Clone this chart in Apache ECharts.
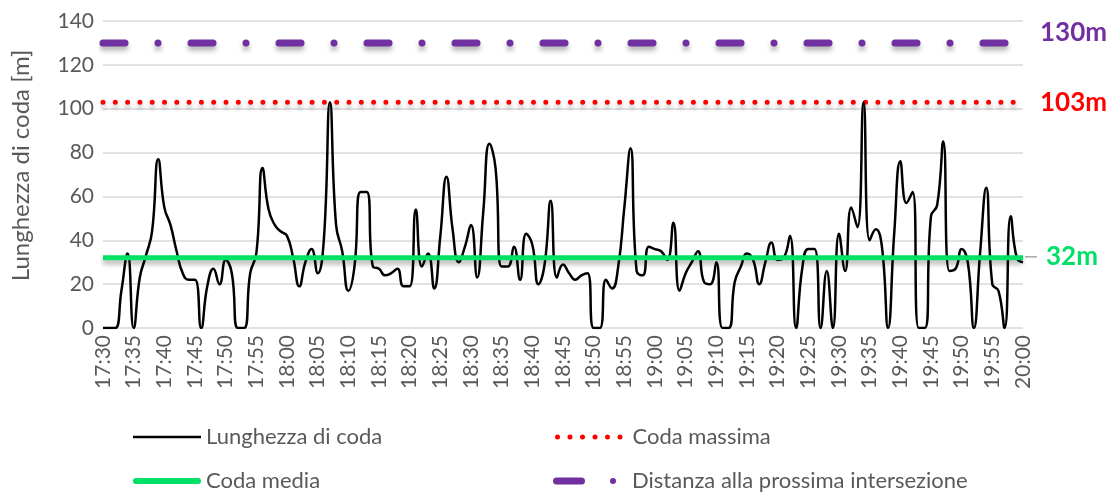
<!DOCTYPE html>
<html><head><meta charset="utf-8">
<script src="https://cdn.jsdelivr.net/npm/echarts@6/dist/echarts.min.js"></script>
<style>html,body{margin:0;padding:0;background:#fff}#c{width:1117px;height:496px}</style>
</head><body><div id="c"></div>
<script>
// categories: one per minute, 17:30 .. 20:00
const categories = [];
for (let m = 0; m <= 150; m++) {
  const t = 17 * 60 + 30 + m;
  categories.push(Math.floor(t / 60) + ':' + String(t % 60).padStart(2, '0'));
}
// Lunghezza di coda [m], one value per minute
const lunghezzaDiCoda = [
  0, 0, 0, 17, 34, 0, 23, 33, 44, 77,
  55, 47, 35, 25, 22, 22, 0, 19, 27, 20,
  31, 25, 0, 0, 25, 34, 73, 54, 47, 44,
  42, 32, 19, 30, 36, 25, 40, 103, 47, 35,
  17, 28, 62, 62, 28, 27, 24, 25, 27, 19,
  19, 54, 28, 34, 18, 42, 69, 45, 30, 37,
  47, 23, 53, 84, 73, 28, 28, 37, 22, 43,
  38, 20, 29, 58, 23, 29, 25, 22, 24, 25,
  0, 0, 22, 18, 28, 55, 82, 26, 24, 37,
  36, 35, 31, 48, 17, 25, 30, 35, 21, 20,
  30, 0, 0, 21, 28, 34, 31, 20, 30, 39,
  31, 32, 42, 0, 27, 36, 36, 0, 26, 0,
  43, 26, 55, 46, 103, 40, 45, 37, 0, 43,
  76, 57, 62, 0, 0, 51, 56, 85, 26, 27,
  36, 30, 0, 34, 64, 20, 17, 0, 51, 32,
  30
];
const codaMedia = 32;
const codaMassima = 103;
const distanzaIntersezione = 130;
const yMin = 0, yMax = 140, yInterval = 20;

const FONT = 'Lato';
const GREY = '#595959';
const first = categories[0], last = categories[categories.length - 1];

const chart = echarts.init(document.getElementById('c'), null, {renderer: 'canvas'});
const legendText = {color: GREY, fontSize: 22, fontFamily: FONT, lineHeight: 26};
chart.setOption({
  animation: false,
  backgroundColor: '#fff',
  grid: {left: 103, right: 94, top: 21, bottom: 168, containLabel: false},
  legend: [
    {data: [{name: 'Lunghezza di coda', icon: 'rect'}], left: 133, top: 424, padding: 0,
     itemWidth: 68, itemHeight: 2.5, textStyle: legendText, selectedMode: false},
    {data: [{name: 'Coda media', icon: 'path://M3,0 H65 A3,3 0 0 1 65,6 H3 A3,3 0 0 1 3,0 Z'}], left: 133, top: 468, padding: 0,
     itemWidth: 68, itemHeight: 6, textStyle: legendText, selectedMode: false},
    {data: [{name: 'Coda massima', icon: 'path://M0,2.5 a2.5,2.5 0 1,0 5,0 a2.5,2.5 0 1,0 -5,0 Z M12.5,2.5 a2.5,2.5 0 1,0 5,0 a2.5,2.5 0 1,0 -5,0 Z M25,2.5 a2.5,2.5 0 1,0 5,0 a2.5,2.5 0 1,0 -5,0 Z M37.5,2.5 a2.5,2.5 0 1,0 5,0 a2.5,2.5 0 1,0 -5,0 Z M50,2.5 a2.5,2.5 0 1,0 5,0 a2.5,2.5 0 1,0 -5,0 Z M62.5,2.5 a2.5,2.5 0 1,0 5,0 a2.5,2.5 0 1,0 -5,0 Z'}],
     left: 555, top: 424, padding: 0, itemWidth: 67.5, itemHeight: 5,
     textStyle: Object.assign({}, legendText, {padding: [0, 0, 0, 5]}), selectedMode: false},
    {data: [{name: 'Distanza alla prossima intersezione', icon: 'path://M3.5,0 H28.5 A3.5,3.5 0 0 1 28.5,7 H3.5 A3.5,3.5 0 0 1 3.5,0 Z M57,3.5 a3,3 0 1,0 6,0 a3,3 0 1,0 -6,0 Z'}],
     left: 553, top: 468, padding: 0, itemWidth: 63, itemHeight: 7,
     textStyle: Object.assign({}, legendText, {padding: [0, 0, 0, 11]}), selectedMode: false}
  ],
  xAxis: {
    type: 'category', data: categories, boundaryGap: false,
    axisLine: {show: false}, axisTick: {show: false},
    axisLabel: {interval: 4, rotate: 90, margin: 7, color: GREY, fontSize: 21, fontFamily: FONT},
    splitLine: {show: false}
  },
  yAxis: {
    type: 'value', min: yMin, max: yMax, interval: yInterval,
    name: 'Lunghezza di coda [m]', nameLocation: 'middle', nameGap: 70, nameRotate: 90,
    nameTextStyle: {color: GREY, fontSize: 24, fontFamily: FONT, padding: [0, 0, 0, 18]},
    axisLine: {show: false}, axisTick: {show: false},
    axisLabel: {margin: 9, color: GREY, fontSize: 21, fontFamily: FONT},
    splitLine: {lineStyle: {color: '#D9D9D9', width: 1.5}}
  },
  series: [
    {
      name: 'Lunghezza di coda', type: 'line', data: lunghezzaDiCoda, smooth: 0.5,
      symbol: 'none', z: 3, itemStyle: {color: '#000'},
      lineStyle: {color: '#000', width: 2.5}
    },
    {
      name: 'Coda massima', type: 'line', data: [[first, codaMassima], [last, codaMassima]],
      symbol: 'none', z: 2, itemStyle: {color: '#FF0000'},
      lineStyle: {color: '#FF0000', width: 5, type: [0, 12.3], cap: 'round',
        shadowColor: 'rgba(0,0,0,0.3)', shadowBlur: 5, shadowOffsetY: 4},
      endLabel: {show: true, formatter: codaMassima + 'm', color: '#FF0000', fontSize: 26,
        fontWeight: 'bold', fontFamily: FONT, distance: 17}
    },
    {
      name: 'Coda media', type: 'line', data: [[first, codaMedia], [last, codaMedia]],
      symbol: 'none', z: 4, itemStyle: {color: '#00E066'},
      lineStyle: {color: '#00E066', width: 5,
        shadowColor: 'rgba(0,0,0,0.3)', shadowBlur: 5, shadowOffsetY: 4},
      endLabel: {show: true, formatter: '{l|}{t|' + codaMedia + 'm}', distance: 2, offset: [0, -1],
        rich: {
          l: {width: 12, height: 1.5, backgroundColor: '#A6A6A6', verticalAlign: 'middle'},
          t: {color: '#00E066', fontSize: 26, fontWeight: 'bold', fontFamily: FONT,
              padding: [0, 0, 0, 9], verticalAlign: 'middle'}
        }}
    },
    {
      name: 'Distanza alla prossima intersezione', type: 'line',
      data: [[first, distanzaIntersezione], [last, distanzaIntersezione]],
      symbol: 'none', z: 2, itemStyle: {color: '#7030A0'},
      lineStyle: {color: '#7030A0', width: 7, type: [22, 33, 0, 33], cap: 'round',
        shadowColor: 'rgba(0,0,0,0.3)', shadowBlur: 5, shadowOffsetY: 4},
      endLabel: {show: true, formatter: distanzaIntersezione + 'm', color: '#7030A0', fontSize: 26,
        fontWeight: 'bold', fontFamily: FONT, distance: 17, offset: [0, -10]}
    }
  ]
});
</script></body></html>
